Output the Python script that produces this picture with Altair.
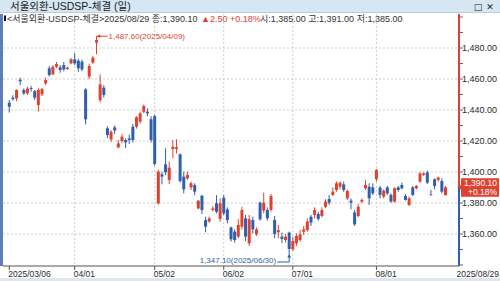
import altair as alt
import pandas as pd

# ---------------- data ----------------
dates = (
    ["03/06", "03/07", "03/10", "03/11", "03/12", "03/13", "03/14", "03/17", "03/18", "03/19",
     "03/20", "03/21", "03/24", "03/25", "03/26", "03/27", "03/28", "03/31"]
    + ["04/01", "04/02", "04/03", "04/04", "04/07", "04/08", "04/09", "04/10", "04/11", "04/14",
       "04/15", "04/16", "04/17", "04/18", "04/21", "04/22", "04/23", "04/24", "04/25", "04/28",
       "04/29", "04/30"]
    + ["05/02", "05/07", "05/08", "05/09", "05/12", "05/13", "05/14", "05/15", "05/16", "05/19",
       "05/20", "05/21", "05/22", "05/23", "05/26", "05/27", "05/28", "05/29", "05/30"]
    + ["06/02", "06/04", "06/05", "06/09", "06/10", "06/11", "06/12", "06/13", "06/16", "06/17",
       "06/18", "06/19", "06/20", "06/23", "06/24", "06/25", "06/26", "06/27", "06/30"]
    + ["07/01", "07/02", "07/03", "07/04", "07/07", "07/08", "07/09", "07/10", "07/11", "07/14",
       "07/15", "07/16", "07/17", "07/18", "07/21", "07/22", "07/23", "07/24", "07/25", "07/28",
       "07/29", "07/30", "07/31"]
    + ["08/01", "08/04", "08/05", "08/06", "08/07", "08/08", "08/11", "08/12", "08/13", "08/14",
       "08/18", "08/19", "08/20", "08/21", "08/22", "08/25", "08/26", "08/27", "08/28", "08/29"]
)

opens = [
    1444.7, 1448.0, 1447.5, 1459.5, 1452.9, 1450.7, 1454.2, 1452.2, 1443.2, 1450.1,
    1457.2, 1466.9, 1463.0, 1467.9, 1467.5, 1469.0, 1466.4, 1470.1,
    1472.7, 1471.8, 1471.2, 1453.3, 1461.5, 1470.5, 1483.4, 1446.4, 1454.4, 1428.2,
    1421.0, 1428.8, 1415.9, 1420.0, 1420.6, 1421.7, 1429.2, 1429.2, 1432.5, 1438.9,
    1438.9, 1434.0,
    1436.1, 1379.8, 1398.5, 1404.9, 1394.8, 1414.8, 1414.8, 1411.4, 1397.0, 1395.9,
    1390.1, 1391.6, 1376.5, 1384.7, 1369.0, 1368.0, 1375.5, 1379.8, 1369.7,
    1383.4, 1375.9, 1364.3, 1361.5, 1358.3, 1364.7, 1370.1, 1354.0, 1369.0, 1359.8,
    1380.2, 1375.1, 1375.5, 1375.5, 1369.0, 1361.1, 1358.3, 1356.1, 1360.9,
    1350.1, 1354.0, 1356.1, 1361.5, 1362.6, 1371.2, 1372.3, 1372.9, 1371.6, 1377.6,
    1382.6, 1385.2, 1388.4, 1390.5, 1392.0, 1383.0, 1381.5, 1373.8, 1371.6, 1380.9,
    1389.5, 1390.5, 1390.1,
    1395.3, 1389.9, 1384.1, 1390.1, 1385.2, 1380.9, 1390.1, 1391.6, 1384.5, 1378.7,
    1390.1, 1389.5, 1393.8, 1398.1, 1399.8, 1385.5, 1395.3, 1394.9, 1394.2, 1385.0,
]
highs = [
    1446.5, 1449.5, 1453.3, 1460.8, 1454.0, 1455.0, 1455.5, 1452.9, 1454.0, 1454.2,
    1461.0, 1468.3, 1469.0, 1471.0, 1469.0, 1471.0, 1468.0, 1473.5,
    1476.7, 1473.0, 1472.5, 1454.0, 1470.0, 1475.0, 1487.6, 1463.0, 1456.0, 1429.5,
    1427.0, 1430.0, 1420.6, 1424.3, 1421.7, 1424.0, 1431.0, 1436.0, 1438.9, 1443.5,
    1441.1, 1436.0,
    1437.0, 1401.5, 1400.2, 1415.3, 1406.7, 1420.6, 1421.1, 1412.0, 1400.2, 1400.2,
    1393.8, 1392.7, 1381.9, 1385.1, 1371.2, 1371.2, 1378.1, 1385.1, 1383.0,
    1385.1, 1377.2, 1364.7, 1363.0, 1369.5, 1377.6, 1372.3, 1372.3, 1371.2, 1364.3,
    1380.9, 1386.7, 1377.2, 1385.8, 1371.6, 1365.8, 1360.9, 1360.0, 1361.5,
    1358.3, 1360.4, 1362.6, 1365.2, 1370.1, 1372.3, 1377.2, 1374.4, 1377.2, 1382.4,
    1385.2, 1390.1, 1393.8, 1393.8, 1393.8, 1388.8, 1383.0, 1375.5, 1379.4, 1383.0,
    1394.8, 1392.7, 1392.7,
    1401.9, 1391.0, 1388.8, 1391.0, 1386.2, 1390.1, 1391.0, 1393.1, 1385.8, 1384.1,
    1391.0, 1391.6, 1399.8, 1399.8, 1400.9, 1388.4, 1395.9, 1397.0, 1395.9, 1391.0,
]
lows = [
    1438.3, 1446.0, 1445.8, 1456.1, 1449.7, 1449.7, 1451.8, 1446.4, 1438.9, 1449.0,
    1456.0, 1461.5, 1462.5, 1467.0, 1464.0, 1465.0, 1466.0, 1469.5,
    1469.0, 1464.6, 1465.0, 1430.7, 1460.0, 1469.8, 1476.0, 1445.0, 1448.0, 1422.0,
    1419.3, 1424.5, 1415.3, 1418.5, 1415.5, 1418.0, 1419.0, 1428.0, 1431.0, 1438.0,
    1436.0, 1419.0,
    1404.0, 1379.0, 1392.0, 1398.0, 1392.2, 1408.8, 1412.0, 1393.1, 1386.2, 1394.8,
    1388.4, 1385.1, 1375.9, 1372.9, 1361.1, 1367.3, 1374.4, 1373.3, 1367.9,
    1372.2, 1366.9, 1355.1, 1354.4, 1357.2, 1363.0, 1355.5, 1352.3, 1360.4, 1358.7,
    1368.6, 1373.3, 1368.6, 1374.4, 1357.2, 1357.2, 1354.0, 1354.4, 1347.1,
    1349.3, 1352.3, 1355.1, 1359.4, 1361.5, 1365.2, 1370.1, 1368.6, 1370.8, 1376.6,
    1378.7, 1384.5, 1387.3, 1388.8, 1387.3, 1381.9, 1375.9, 1365.2, 1370.8, 1379.8,
    1388.4, 1378.7, 1385.2,
    1393.8, 1383.0, 1383.0, 1385.2, 1380.2, 1380.2, 1387.3, 1388.8, 1381.5, 1378.1,
    1384.5, 1388.8, 1393.1, 1397.4, 1392.3, 1384.7, 1388.8, 1393.8, 1386.2, 1385.0,
]
closes = [
    1442.1, 1447.0, 1452.9, 1458.5, 1450.7, 1453.8, 1453.6, 1448.0, 1452.9, 1453.5,
    1459.3, 1462.6, 1467.9, 1469.7, 1465.8, 1466.2, 1467.3, 1472.7,
    1470.1, 1466.9, 1466.2, 1434.0, 1468.4, 1473.8, 1485.1, 1456.5, 1449.7, 1423.8,
    1426.0, 1426.7, 1418.5, 1422.8, 1419.1, 1420.6, 1420.6, 1435.3, 1437.8, 1442.6,
    1437.8, 1420.6,
    1405.2, 1400.2, 1397.0, 1399.8, 1402.8, 1416.3, 1415.9, 1394.2, 1388.8, 1398.1,
    1392.7, 1387.3, 1381.5, 1375.5, 1364.7, 1370.1, 1376.5, 1374.4, 1379.8,
    1373.3, 1369.0, 1356.6, 1356.1, 1365.8, 1375.5, 1358.3, 1369.5, 1363.0, 1363.0,
    1369.5, 1380.2, 1370.1, 1384.5, 1360.0, 1362.6, 1356.8, 1358.3, 1350.3,
    1355.5, 1358.7, 1359.8, 1363.0, 1368.0, 1367.3, 1375.5, 1369.7, 1375.5, 1380.9,
    1380.2, 1387.3, 1392.7, 1393.1, 1388.4, 1387.7, 1380.2, 1366.2, 1377.6, 1382.0,
    1391.6, 1383.0, 1386.2,
    1401.3, 1385.2, 1388.0, 1386.2, 1380.9, 1389.5, 1388.4, 1389.5, 1382.0, 1383.0,
    1385.2, 1391.0, 1399.1, 1399.1, 1393.1, 1385.1, 1391.0, 1396.4, 1387.3, 1390.1,
]

x_tick_index = [0, 18, 40, 59, 78, 101]
x_tick_labels = ["2025/03/06", "04/01", "05/02", "06/02", "07/01", "08/01"]
last_date_label = "2025/08/29"
price_ticks = [1360, 1380, 1400, 1420, 1440, 1460, 1480]
price_minor = [1340, 1350, 1360, 1370, 1380, 1390, 1400, 1410, 1420, 1430, 1440,
               1450, 1460, 1470, 1480, 1490, 1500]

title_text = "서울외환-USDSP-체결 (일)"
info_main = "<서울외환-USDSP-체결>2025/08/29 종:1,390.10"
info_change = "▲2.50 +0.18%"
info_rest = "시:1,385.00 고:1,391.00 저:1,385.00"
last_change = "+0.18%"
high_label = "1,487.60(2025/04/09)"
low_label = "1,347.10(2025/06/30)"

# ---------------- styling ----------------
RED = "#e0412f"
BLUE = "#2f5fad"
GRID = "#cdcdcd"
TXT = "#2a2a2a"
FONT = "'Liberation Sans', 'Noto Sans CJK KR', sans-serif"
W, H = 456, 252
XDOM = [-0.35, 122.34]
YDOM = [1339.35, 1501.94]

df = pd.DataFrame({"i": list(range(len(dates))), "date": dates, "open": opens,
                   "high": highs, "low": lows, "close": closes})
df["dir"] = ["up" if c >= o else "down" for o, c in zip(opens, closes)]

xs = alt.Scale(domain=XDOM, nice=False, zero=False)
ys = alt.Scale(domain=YDOM, nice=False, zero=False)


def X(f):
    return alt.X(f, type="quantitative", scale=xs, axis=None)


def Y(f):
    return alt.Y(f, type="quantitative", scale=ys, axis=None)


col = alt.Color("dir:N", scale=alt.Scale(domain=["up", "down"], range=[RED, BLUE]), legend=None)
one = pd.DataFrame({"k": [0]})

# title bar
title_bar = alt.Chart(one).mark_rect(color="#d7e6f3").encode(
    x=alt.value(-3), x2=alt.value(497), y=alt.value(-14), y2=alt.value(-1.5))
title_line = alt.Chart(one).mark_rule(color="#b9cde0").encode(
    x=alt.value(-3), x2=alt.value(497), y=alt.value(-1.5))
title = alt.Chart(one).mark_text(text=title_text, align="left", baseline="middle", font=FONT,
                                 fontSize=10.5, color="#1a1a1a").encode(
    x=alt.value(7), y=alt.value(-7.5))
btn1 = alt.Chart(one).mark_text(text="□", align="center", baseline="middle", font="DejaVu Sans",
                                fontSize=9, color="#222").encode(x=alt.value(475), y=alt.value(-7))
btn2 = alt.Chart(one).mark_text(text="✕", align="center", baseline="middle", font="DejaVu Sans",
                                fontSize=9, color="#222").encode(x=alt.value(487), y=alt.value(-7))

# grid
hgrid = alt.Chart(pd.DataFrame({"p": price_ticks})).mark_rule(
    color=GRID, strokeDash=[2, 2], strokeWidth=1).encode(y=Y("p"), x=alt.value(0), x2=alt.value(W))
vgrid = alt.Chart(pd.DataFrame({"i": x_tick_index[1:]})).mark_rule(
    color=GRID, strokeDash=[2, 2], strokeWidth=1).encode(x=X("i"), y=alt.value(0), y2=alt.value(H))

# candles
wicks = alt.Chart(df).mark_rule(strokeWidth=1).encode(
    x=X("i"), y=Y("low"), y2="high", color=col)
bodies = alt.Chart(df).mark_bar(size=3).encode(
    x=X("i"), y=Y("open"), y2="close", color=col)

# frame
left_strip = alt.Chart(one).mark_rect(color="#5d7fb9").encode(
    x=alt.value(-3), x2=alt.value(0), y=alt.value(0), y2=alt.value(H))
x_axis_line = alt.Chart(one).mark_rule(color="#555555").encode(
    x=alt.value(0), x2=alt.value(W), y=alt.value(H))
x_ticks = alt.Chart(pd.DataFrame({"i": x_tick_index})).mark_rule(color="#555555").encode(
    x=X("i"), y=alt.value(H), y2=alt.value(H + 4))
x_labels = alt.Chart(pd.DataFrame({"i": x_tick_index, "t": x_tick_labels})).mark_text(
    align="left", baseline="middle", font=FONT, fontSize=8.5, color=TXT, dx=-1).encode(
    x=X("i"), y=alt.value(H + 8), text="t:N")
x_last = alt.Chart(one).mark_text(text=last_date_label, align="right", baseline="middle",
                                  font=FONT, fontSize=8.5, color=TXT).encode(
    x=alt.value(496), y=alt.value(H + 8))
bottom_band = alt.Chart(one).mark_rect(color="#dfe6ee").encode(
    x=alt.value(-3), x2=alt.value(497), y=alt.value(H + 12), y2=alt.value(H + 15))

# price axis
lastp = pd.DataFrame({"p": [closes[-1]], "t": [f"{closes[-1]:,.2f}"], "c": [last_change]})
red_line = alt.Chart(lastp).mark_rule(color=RED, strokeWidth=2).encode(
    x=alt.value(W), y=Y("p"), y2=alt.value(0))
blue_line = alt.Chart(lastp).mark_rule(color=BLUE, strokeWidth=2).encode(
    x=alt.value(W), y=Y("p"), y2=alt.value(H))
p_ticks = alt.Chart(pd.DataFrame({"p": price_minor})).mark_rule(color="#666666").encode(
    y=Y("p"), x=alt.value(W + 1), x2=alt.value(W + 4))
p_labels = alt.Chart(pd.DataFrame({"p": price_ticks,
                                   "t": [f"{p:,.2f}" for p in price_ticks]})).mark_text(
    align="left", baseline="middle", font=FONT, fontSize=9, color=TXT).encode(
    x=alt.value(W + 3), y=Y("p"), text="t:N")

price_box = alt.Chart(lastp).mark_rect(color=RED, yOffset=-9, y2Offset=9.5).encode(
    x=alt.value(W + 2), x2=alt.value(W + 40), y=Y("p"), y2=alt.Y2("p"))
price_arrow = alt.Chart(lastp).mark_point(shape="triangle-left", filled=True, size=45,
                                          color=RED, opacity=1).encode(
    x=alt.value(W + 1), y=Y("p"))
price_t1 = alt.Chart(lastp).mark_text(align="right", baseline="middle", font=FONT, fontSize=8.5,
                                      color="white", dy=-4.5).encode(
    x=alt.value(W + 38), y=Y("p"), text="t:N")
price_t2 = alt.Chart(lastp).mark_text(align="right", baseline="middle", font=FONT, fontSize=8.5,
                                      color="white", dy=4.5).encode(
    x=alt.value(W + 38), y=Y("p"), text="c:N")

# header info line
marker = alt.Chart(one).mark_rect(color="#111111").encode(
    x=alt.value(1), x2=alt.value(3), y=alt.value(1.5), y2=alt.value(7))
info_df = pd.DataFrame({"x": [4, 198, 257], "t": [info_main, info_change, info_rest],
                        "c": ["main", "chg", "rest"]})
info = alt.Chart(info_df).mark_text(align="left", baseline="middle", font=FONT,
                                    fontSize=9).encode(
    x=alt.X("x:Q", scale=None, axis=None), y=alt.value(4.5), text="t:N",
    color=alt.Color("c:N", scale=alt.Scale(domain=["main", "chg", "rest"],
                                           range=["#333333", RED, "#333333"]), legend=None))

# annotations
hi = pd.DataFrame({"i": [dates.index("04/09")], "p": [max(highs)], "t": [high_label]})
hi_line = alt.Chart(hi).mark_rule(color=RED, x2Offset=11).encode(
    x=X("i"), x2=alt.X2("i"), y=Y("p"))
hi_head = alt.Chart(hi).mark_point(shape="triangle-left", filled=True, size=14, color=RED,
                                   opacity=1, xOffset=2).encode(x=X("i"), y=Y("p"))
hi_text = alt.Chart(hi).mark_text(align="left", baseline="middle", font=FONT, fontSize=8,
                                  color=RED, dx=12, dy=0.5).encode(x=X("i"), y=Y("p"), text="t:N")

lo = pd.DataFrame({"i": [dates.index("06/30")], "p": [min(lows)], "t": [low_label]})
lo_vline = alt.Chart(lo).mark_rule(color=BLUE, y2Offset=8).encode(
    x=X("i"), y=Y("p"), y2=alt.Y2("p"))
lo_hline = alt.Chart(lo).mark_rule(color=BLUE, xOffset=-12, yOffset=8).encode(
    x=X("i"), x2=alt.X2("i"), y=Y("p"))
lo_head = alt.Chart(lo).mark_point(shape="triangle-up", filled=True, size=14, color=BLUE,
                                   opacity=1, yOffset=2).encode(x=X("i"), y=Y("p"))
lo_text = alt.Chart(lo).mark_text(align="right", baseline="middle", font=FONT, fontSize=8,
                                  color=BLUE, dx=-13, dy=7.5).encode(x=X("i"), y=Y("p"), text="t:N")

chart = alt.layer(
    title_bar, title_line, title, btn1, btn2,
    hgrid, vgrid, wicks, bodies,
    left_strip, x_axis_line, x_ticks, x_labels, x_last, bottom_band,
    red_line, blue_line, p_ticks, p_labels,
    hi_line, hi_head, hi_text, lo_vline, lo_hline, lo_head, lo_text,
    price_arrow, price_box, price_t1, price_t2,
    marker, info,
).resolve_scale(color="independent").properties(
    width=W, height=H,
    padding={"left": 3, "top": 14, "right": 41, "bottom": 15},
    autosize=alt.AutoSizeParams(type="none"),
    background="white",
).configure_view(stroke=None)

chart.save("out.html", embed_options={"renderer": "svg", "actions": False})
